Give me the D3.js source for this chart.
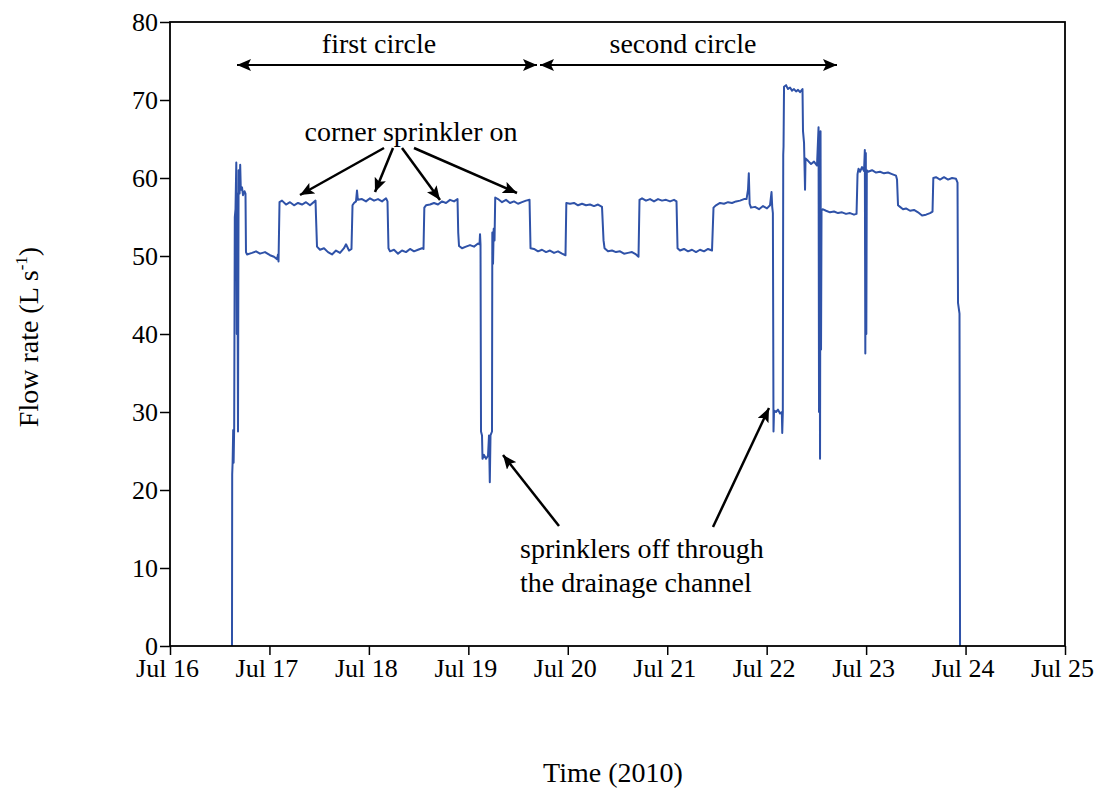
<!DOCTYPE html>
<html>
<head>
<meta charset="utf-8">
<script src="https://cdn.jsdelivr.net/npm/d3@7"></script>
<style>
  html, body { margin: 0; padding: 0; background: #fff; }
  svg { display: block; }
  text { font-family: "Liberation Serif", "Times New Roman", serif; fill: #000; }
</style>
</head>
<body>
<svg id="chart" width="1096" height="791"></svg>
<script>
// ---------- data (hours after 2010-07-16 00:00, flow in L/s) ----------
const hours = [
  14.96,15.01,15.11,15.25,15.35,15.49,15.64,15.81,16.00,16.12,16.24,16.41,16.56,16.80,16.94,17.09,17.38,17.62,17.98,18.22,
  18.34,18.58,19.79,20.76,21.72,22.93,24.14,25.10,25.82,26.07,26.19,
  26.43,27.03,28.00,28.96,29.93,30.89,31.86,32.82,33.79,35.12,35.24,
  35.48,36.20,37.17,38.13,39.10,40.06,41.03,41.99,42.48,43.20,43.80,
  44.05,44.41,44.89,45.13,45.33,46.34,47.30,48.27,49.24,50.20,51.17,52.13,52.49,
  52.73,53.10,54.06,55.03,55.99,56.96,57.92,58.89,59.85,60.82,61.18,
  61.38,61.79,62.75,63.72,64.68,65.65,66.61,67.58,68.54,69.39,69.56,
  69.75,70.47,71.44,72.41,73.37,74.34,74.70,74.82,74.94,75.06,75.30,75.42,75.78,76.27,76.75,76.99,77.18,77.35,77.71,77.79,77.96,78.12,78.32,
  78.49,79.16,80.13,81.09,82.06,83.02,83.99,84.96,85.92,86.77,
  87.01,87.85,88.82,89.78,90.75,91.71,92.68,93.64,94.61,95.45,
  95.65,96.54,97.51,98.47,99.44,100.40,101.37,102.33,103.30,104.26,
  104.63,104.87,105.71,106.68,107.64,108.61,109.57,110.54,111.50,112.47,113.07,
  113.31,113.92,114.88,115.85,116.81,117.78,118.74,119.71,120.68,121.64,122.24,
  122.49,123.09,124.05,125.02,125.98,126.95,127.91,128.88,129.85,130.81,
  131.17,131.77,132.74,133.71,134.67,135.64,136.60,137.57,138.53,139.14,139.50,139.69,139.89,140.22,141.19,142.15,143.12,144.08,144.81,145.17,145.34,145.50,
  145.65,145.78,146.26,146.74,147.22,147.66,147.76,147.90,148.00,148.07,148.19,148.68,149.15,149.64,150.12,150.60,151.09,151.57,152.05,152.65,152.77,
  153.02,153.26,153.38,153.98,154.71,155.43,156.15,156.52,156.64,156.76,156.88,157.00,157.12,157.24,157.48,
  158.33,159.29,160.26,161.22,162.19,163.15,164.12,165.08,165.69,
  165.93,166.17,166.53,167.01,167.50,167.69,167.81,167.93,168.05,168.17,168.46,169.43,170.39,171.36,172.32,173.29,174.25,175.22,175.46,
  175.70,176.19,176.91,177.63,178.60,179.56,180.53,181.50,182.46,183.43,184.03,
  184.22,184.87,185.84,186.80,187.77,188.74,189.70,190.06,190.18,190.54,190.67
];
const flow = [
  0,22,23.5,27.7,23.5,28,55,56,62,40,58,27.5,61,58,61.7,58.5,58.8,57.8,58.3,58,
  50.5,50.2,50.4,50.6,50.3,50.5,50.1,49.9,49.6,50.2,49.3,
  56.9,57.1,56.6,56.9,56.5,56.8,56.6,56.9,56.5,57.1,55,
  51.2,50.8,51,50.5,50.2,50.7,50.4,51,51.5,50.7,50.9,
  56.5,56.8,57,58.4,57.2,57.3,57,57.4,57.1,57.3,57,57.4,57,
  51,50.6,50.8,50.3,50.7,50.5,50.9,50.6,50.8,51,50.9,
  56.2,56.5,56.6,56.8,56.6,57,56.8,57.2,57,57.3,53,
  51.3,51,51.2,51.4,51.2,51.6,51.5,52.8,51.5,27.5,27,24,24.5,24,24.4,27,21,27,27.5,53,49,53.5,52,
  57.5,57.3,56.9,57.2,56.8,57,56.7,56.9,57.1,57.2,
  51,50.9,50.6,50.8,50.5,50.7,50.4,50.6,50.3,50.1,
  56.8,56.7,56.8,56.5,56.7,56.5,56.6,56.4,56.6,56.3,
  52,51,50.6,50.7,50.5,50.6,50.3,50.4,50.5,50.2,49.9,
  57.2,57.4,57.1,57.3,57,57.3,57.1,57.2,57,57.2,57,
  51,50.7,50.9,50.6,50.8,50.5,50.8,50.6,50.9,50.7,
  56.2,56.5,56.8,56.7,56.9,56.8,57,57.1,57.3,57.3,58.5,60.6,56.7,56.2,56.3,56,56.4,56.1,56.5,58.2,56.3,55.5,
  27.5,30.2,30,30.3,29.8,30,27.3,30,63,64,71.7,71.9,71.4,71.6,71.2,71.4,71.1,71.3,71,71.4,66,
  64.5,58.5,62.5,62.2,61.8,62.1,61.6,66.5,30,62,24,66,38,55.8,56,
  55.8,55.6,55.7,55.5,55.6,55.4,55.5,55.3,55.4,
  60.5,61.2,60.8,61.4,60.9,63.6,37.5,63.2,40,61,60.8,61,60.7,60.8,60.6,60.7,60.5,60.3,59.8,
  56.5,56.3,56,56.1,55.8,55.9,55.6,55.2,55.3,55.5,55.7,
  60,60.1,59.8,60.1,59.8,60,59.9,59.4,44,42.6,0
];
const xTickLabels = ["Jul 16","Jul 17","Jul 18","Jul 19","Jul 20","Jul 21","Jul 22","Jul 23","Jul 24","Jul 25"];
const yTicks = [0,10,20,30,40,50,60,70,80];

// ---------- setup ----------
const svg = d3.select("#chart");
const L = 170, R = 1065, T = 22, B = 646;
const FS = 28;
const base = new Date(2010, 6, 16);
const toDate = h => new Date(base.getTime() + h * 3600000);
const data = hours.map((h, i) => ({ t: toDate(h), v: flow[i] }));

const x = d3.scaleTime().domain([base, toDate(24 * 9)]).range([L, R]);
const y = d3.scaleLinear().domain([0, 80]).range([B, T]);

const defs = svg.append("defs");
defs.append("marker").attr("id", "ah")
  .attr("viewBox", "0 0 14 12").attr("refX", 14).attr("refY", 6)
  .attr("markerWidth", 14).attr("markerHeight", 12)
  .attr("markerUnits", "userSpaceOnUse").attr("orient", "auto-start-reverse")
  .append("path").attr("d", "M0,0 L14,6 L0,12 L3,6 Z").attr("fill", "#000");

// axes
const xDays = d3.range(10).map(d => toDate(d * 24));
const xAxis = d3.axisBottom(x).tickValues(xDays)
  .tickFormat((d, i) => xTickLabels[i]).tickSize(9).tickPadding(4);
const gx = svg.append("g").attr("transform", `translate(0,${B})`).call(xAxis);
gx.select(".domain").remove();
gx.selectAll("line").attr("stroke", "#000").attr("stroke-width", 1.5);
gx.selectAll("text").attr("font-size", 26).attr("font-family", "Liberation Serif").attr("dx", -3);

const yAxis = d3.axisLeft(y).tickValues(yTicks).tickSize(10).tickPadding(2);
const gy = svg.append("g").attr("transform", `translate(${L},0)`).call(yAxis);
gy.select(".domain").remove();
gy.selectAll("line").attr("stroke", "#000").attr("stroke-width", 1.5);
gy.selectAll("text").attr("font-size", 26).attr("font-family", "Liberation Serif");

// series
svg.append("path").datum(data)
  .attr("fill", "none").attr("stroke", "#2f52a8").attr("stroke-width", 2)
  .attr("stroke-linejoin", "round")
  .attr("d", d3.line().x(d => x(d.t)).y(d => y(d.v)));

// frame
svg.append("rect").attr("x", L).attr("y", T).attr("width", R - L).attr("height", B - T)
  .attr("fill", "none").attr("stroke", "#000").attr("stroke-width", 1.8);

// annotations
function arrow(x1, y1, x2, y2, w, both) {
  const l = svg.append("line").attr("x1", x1).attr("y1", y1).attr("x2", x2).attr("y2", y2)
    .attr("stroke", "#000").attr("stroke-width", w).attr("marker-end", "url(#ah)");
  if (both) l.attr("marker-start", "url(#ah)");
}
arrow(237, 65, 537, 65, 2, true);
arrow(540, 65, 837, 65, 2, true);
svg.append("text").attr("x", 379).attr("y", 53).attr("text-anchor", "middle").attr("font-size", FS).text("first circle");
svg.append("text").attr("x", 683).attr("y", 53).attr("text-anchor", "middle").attr("font-size", FS).text("second circle");

svg.append("text").attr("x", 411).attr("y", 141).attr("text-anchor", "middle").attr("font-size", FS).text("corner sprinkler on");
arrow(384, 148, 300, 195, 2.5);
arrow(393, 148, 375, 192, 2.5);
arrow(402, 148, 440, 200, 2.5);
arrow(414, 148, 517, 193, 2.5);

svg.append("text").attr("x", 520).attr("y", 558).attr("font-size", FS).text("sprinklers off through");
svg.append("text").attr("x", 520).attr("y", 592).attr("font-size", FS).text("the drainage channel");
arrow(559, 526, 503, 455, 2.5);
arrow(713, 527, 769, 408, 2.5);

// axis titles
svg.append("text").attr("x", 613).attr("y", 782).attr("text-anchor", "middle").attr("font-size", FS).text("Time (2010)");
const yt = svg.append("text").attr("transform", "translate(38,337) rotate(-90)")
  .attr("text-anchor", "middle").attr("font-size", FS);
yt.append("tspan").text("Flow rate (L s");
yt.append("tspan").attr("font-size", 17).attr("dy", -11).text("-1");
yt.append("tspan").attr("dy", 11).text(")");
</script>
</body>
</html>
